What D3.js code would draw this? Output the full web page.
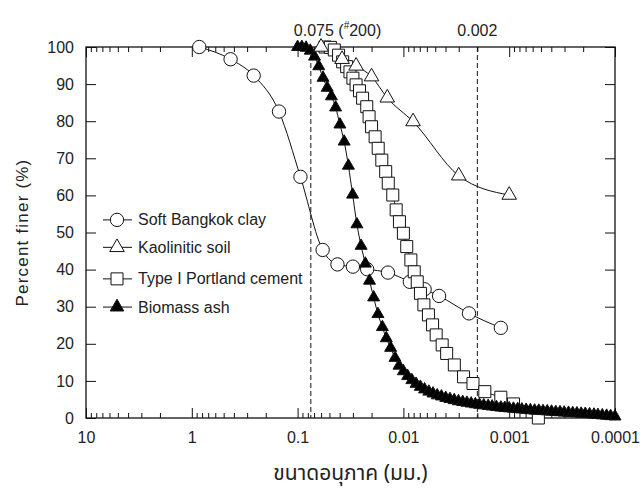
<!DOCTYPE html>
<html>
<head>
<meta charset="utf-8">
<script src="https://cdn.jsdelivr.net/npm/d3@7/dist/d3.min.js"></script>
<style>
  html, body { margin: 0; padding: 0; background: #fff; }
  svg { display: block; }
  text { font-family: "Liberation Sans", Arial, Helvetica, sans-serif; fill: #222; }
</style>
</head>
<body>
<svg id="chart" width="644" height="492"></svg>
<script>
// ---------------- data ----------------
const xTickLabels = ["10", "1", "0.1", "0.01", "0.001", "0.0001"];
const xTickValues = [10, 1, 0.1, 0.01, 0.001, 0.0001];
const yTickValues = [0, 10, 20, 30, 40, 50, 60, 70, 80, 90, 100];
const refLines = [0.075, 0.002];

const seriesNames = ["Soft Bangkok clay", "Kaolinitic soil", "Type I Portland cement", "Biomass ash"];

const clayX = [0.85, 0.43, 0.26, 0.15, 0.094, 0.058, 0.042, 0.030, 0.022, 0.014, 0.0087, 0.0063, 0.0046, 0.0024, 0.0012];
const clayY = [100, 96.7, 92.3, 82.6, 65.0, 45.3, 41.4, 40.8, 40.1, 39.2, 36.7, 34.7, 32.9, 28.2, 24.3];

const kaoX = [0.060, 0.038, 0.028, 0.020, 0.0142, 0.0081, 0.0030, 0.0010];
const kaoY = [100, 96.7, 94.9, 92.0, 86.3, 79.9, 65.3, 60.1];

const cemX = [0.055, 0.049, 0.045, 0.041, 0.0375, 0.0344, 0.032, 0.030, 0.028, 0.026, 0.0243, 0.0222, 0.0211, 0.020,
  0.0185, 0.0173, 0.016, 0.0147, 0.0139, 0.0126, 0.0117, 0.0109, 0.010, 0.0093, 0.0085, 0.0079, 0.0074, 0.0069,
  0.0064, 0.0058, 0.0053, 0.0049, 0.0043, 0.0039, 0.0033, 0.0027, 0.0022, 0.0017, 0.0012, 0.00091, 0.00053];
const cemY = [100, 99.9, 99.2, 97.8, 96.0, 94.7, 93.3, 91.6, 89.8, 88.2, 86.2, 83.9, 81.2, 78.5,
  75.8, 72.7, 69.5, 66.4, 63.3, 60.1, 56.1, 52.9, 49.8, 46.2, 42.6, 39.4, 36.7, 33.6,
  30.5, 27.8, 25.1, 22.4, 19.7, 17.4, 14.3, 11.1, 9.3, 7.1, 5.6, 3.8, 0];

const ashX = [0.1, 0.0912, 0.0832, 0.0759, 0.0692, 0.0631, 0.0575, 0.0525, 0.0479, 0.0437,
  0.0398, 0.0363, 0.0331, 0.0302, 0.0275, 0.0251, 0.0229, 0.0209, 0.0191, 0.0174,
  0.0158, 0.0145, 0.0132, 0.0120, 0.0110, 0.0100, 0.00912, 0.00832, 0.00759, 0.00692,
  0.00631, 0.00575, 0.00525, 0.00479, 0.00437, 0.00398, 0.00363, 0.00331, 0.00302, 0.00275,
  0.00251, 0.00229, 0.00209, 0.00191, 0.00174, 0.00158, 0.00145, 0.00132, 0.00120, 0.00110,
  0.00100, 0.000912, 0.000832, 0.000759, 0.000692, 0.000631, 0.000575, 0.000525, 0.000479, 0.000437,
  0.000398, 0.000363, 0.000331, 0.000302, 0.000275, 0.000251, 0.000229, 0.000209, 0.000191, 0.000174,
  0.000158, 0.000145, 0.000132, 0.000120, 0.000110, 0.000100];
const ashY = [100, 100, 99.8, 99.0, 97.4, 94.8, 91.7, 89.0, 86.7, 83.7,
  79.1, 74.5, 68.0, 60.2, 52.2, 46.4, 41.6, 37.0, 32.5, 28.0,
  24.5, 21.5, 18.9, 16.2, 14.1, 12.6, 11.3, 10.2, 9.2, 8.4,
  7.7, 7.1, 6.6, 6.1, 5.8, 5.4, 5.1, 4.8, 4.5, 4.3,
  4.1, 3.9, 3.7, 3.55, 3.4, 3.25, 3.1, 2.95, 2.8, 2.7,
  2.6, 2.5, 2.4, 2.3, 2.2, 2.1, 2.0, 1.95, 1.85, 1.8,
  1.7, 1.6, 1.55, 1.45, 1.4, 1.3, 1.25, 1.15, 1.1, 1.0,
  0.9, 0.8, 0.7, 0.6, 0.5, 0.4];

// ---------------- layout ----------------
const L = 86, R = 615, T = 47, B = 418;
const svg = d3.select("#chart");

const x = d3.scaleLog().domain([10, 0.0001]).range([L, R]);
const y = d3.scaleLinear().domain([0, 100]).range([B, T]);

// minor tick positions (2..9 within each decade)
const minorTicks = [];
[1, 0.1, 0.01, 0.001, 0.0001].forEach(d => { for (let m = 2; m <= 9; m++) minorTicks.push(+(d * m).toPrecision(6)); });

const fmtX = d => xTickLabels[xTickValues.indexOf(d)];

// bottom axis
const gB = svg.append("g").attr("transform", `translate(0,${B})`);
gB.call(d3.axisBottom(x).tickValues(xTickValues).tickFormat(fmtX).tickSizeInner(-10).tickSizeOuter(0).tickPadding(14));
gB.append("g").call(d3.axisBottom(x).tickValues(minorTicks).tickFormat("").tickSizeInner(-5).tickSizeOuter(0));
// top axis
const gT = svg.append("g").attr("transform", `translate(0,${T})`);
gT.call(d3.axisTop(x).tickValues(xTickValues).tickFormat("").tickSizeInner(-10).tickSizeOuter(0));
gT.append("g").call(d3.axisTop(x).tickValues(minorTicks).tickFormat("").tickSizeInner(-5).tickSizeOuter(0));
// left axis
const gL = svg.append("g").attr("transform", `translate(${L},0)`);
gL.call(d3.axisLeft(y).tickValues(yTickValues).tickSizeInner(-10).tickSizeOuter(0).tickPadding(12));
// right axis
const gR = svg.append("g").attr("transform", `translate(${R},0)`);
gR.call(d3.axisRight(y).tickValues(yTickValues).tickFormat("").tickSizeInner(-10).tickSizeOuter(0));

svg.selectAll(".domain").remove();
svg.selectAll(".tick line").attr("stroke", "#111").attr("stroke-width", 1);
svg.selectAll(".tick text").attr("font-size", 16).attr("fill", "#222")
  .style("font-family", "'Liberation Sans', Arial, sans-serif");

// frame
svg.append("rect").attr("x", L).attr("y", T).attr("width", R - L).attr("height", B - T)
  .attr("fill", "none").attr("stroke", "#111").attr("stroke-width", 1.3);

// reference dashed lines
refLines.forEach(v => {
  svg.append("line").attr("x1", x(v)).attr("x2", x(v)).attr("y1", T).attr("y2", B)
    .attr("stroke", "#111").attr("stroke-width", 1).attr("stroke-dasharray", "5,3");
});

// top labels
const t1 = svg.append("text").attr("x", x(0.075) - 17).attr("y", 36).attr("font-size", 16);
t1.append("tspan").text("0.075 (");
t1.append("tspan").attr("dy", -7).attr("font-size", 10).text("#");
t1.append("tspan").attr("dy", 7).text("200)");
svg.append("text").attr("x", x(0.002)).attr("y", 36).attr("font-size", 16).attr("text-anchor", "middle").text("0.002");

// axis titles
svg.append("text").attr("transform", `translate(28,${(T + B) / 2}) rotate(-90)`)
  .attr("text-anchor", "middle").attr("font-size", 17).attr("letter-spacing", 1.2).text("Percent finer (%)");
svg.append("text").attr("x", (L + R) / 2).attr("y", 480).attr("text-anchor", "middle").attr("font-size", 21)
  .style("font-family", "'Noto Sans Thai', 'Loma', 'Garuda', 'Tlwg Typo', 'DejaVu Sans', sans-serif")
  .text("ขนาดอนุภาค (มม.)");

// ---------------- series ----------------
const zip = (xs, ys) => xs.map((v, i) => [v, ys[i]]);
const series = [
  { name: seriesNames[0], data: zip(clayX, clayY), sym: d3.symbolCircle, size: 140, fill: "#fff" },
  { name: seriesNames[2], data: zip(cemX, cemY), sym: d3.symbolSquare, size: 144, fill: "#fff" },
  { name: seriesNames[3], data: zip(ashX, ashY), sym: d3.symbolTriangle, size: 62, fill: "#000" },
  { name: seriesNames[1], data: zip(kaoX, kaoY), sym: d3.symbolTriangle, size: 92, fill: "#fff" }
];

const line = d3.line().x(d => x(d[0])).y(d => y(d[1])).curve(d3.curveMonotoneX);
const plot = svg.append("g");
series.forEach(s => {
  plot.append("path").datum(s.data).attr("d", line).attr("fill", "none").attr("stroke", "#111").attr("stroke-width", 1);
});
series.forEach(s => {
  plot.append("g").selectAll("path").data(s.data).join("path")
    .attr("transform", d => `translate(${x(d[0])},${y(d[1])})`)
    .attr("d", d3.symbol().type(s.sym).size(s.size))
    .attr("fill", s.fill).attr("stroke", "#111").attr("stroke-width", 1);
});

// ---------------- legend ----------------
const legendOrder = [
  { name: seriesNames[0], sym: d3.symbolCircle, size: 140, fill: "#fff", val: 53.4 },
  { name: seriesNames[1], sym: d3.symbolTriangle, size: 92, fill: "#fff", val: 46.0 },
  { name: seriesNames[2], sym: d3.symbolSquare, size: 144, fill: "#fff", val: 37.5 },
  { name: seriesNames[3], sym: d3.symbolTriangle, size: 80, fill: "#000", val: 29.9 }
];
const lg = svg.append("g");
legendOrder.forEach(e => {
  const yy = y(e.val);
  lg.append("line").attr("x1", 103).attr("x2", 132).attr("y1", yy).attr("y2", yy).attr("stroke", "#111");
  lg.append("path").attr("transform", `translate(117,${yy})`).attr("d", d3.symbol().type(e.sym).size(e.size))
    .attr("fill", e.fill).attr("stroke", "#111");
  lg.append("text").attr("x", 138).attr("y", yy).attr("dy", "0.35em").attr("font-size", 16).text(e.name);
});
</script>
</body>
</html>
